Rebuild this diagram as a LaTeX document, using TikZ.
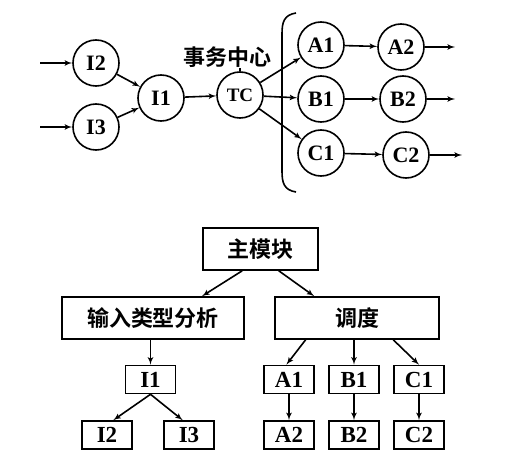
\documentclass[tikz,border=0pt]{standalone}
\usepackage{fontspec}
\setmainfont{Liberation Serif}
\newfontfamily\cjk{Noto Sans CJK SC}[BoldFont={* Bold}]
\usetikzlibrary{arrows}

\begin{document}
\begin{tikzpicture}[%
x=1pt, y=-1pt, >=latex', line width=1.6pt,
circ/.style={draw, shape=circle, minimum size=46pt, inner sep=0pt, font=\fontsize{22}{24}\selectfont\bfseries},
modbox/.style={draw, minimum height=42pt, inner sep=0pt, font=\fontsize{22}{24}\selectfont\cjk\bfseries},
leafbox/.style={draw, minimum width=50pt, minimum height=28pt, inner sep=0pt, font=\fontsize{23}{24}\selectfont\bfseries}]%pixel grid, y downwards
\useasboundingbox (0,0) rectangle (531,468);
% data flow
\node[circ] (I2) at (96,63) {I2};
\node[circ] (I3) at (96,127) {I3};
\node[circ] (I1) at (161,98) {I1};
\node[circ, font=\fontsize{19}{20}\selectfont\bfseries] (TC) at (240,95) {TC};
\node[font=\fontsize{22}{24}\selectfont\cjk\bfseries, inner sep=0pt] (tclabel) at (227,57) {事务中心};
\node[circ] (A1) at (321,45) {A1};
\node[circ] (B1) at (321,99) {B1};
\node[circ] (C1) at (321,153) {C1};
\node[circ] (A2) at (401,47) {A2};
\node[circ] (B2) at (403,99) {B2};
\node[circ] (C2) at (406,155) {C2};
\coordinate (inI2) at (40,63);
\coordinate (inI3) at (40,127);
\coordinate (outA) at (455,47);
\coordinate (outB) at (455,99);
\coordinate (outC) at (462,155);
\draw[->] (inI2) -- (I2);
\draw[->] (inI3) -- (I3);
\draw[->] (I2) -- (I1);
\draw[->] (I3) -- (I1);
\draw[->] (I1) -- (TC);
\draw (TC.north) -- (TC.north |- tclabel.south);
\draw[->] (TC) -- (A1);
\draw[->] (TC) -- (B1);
\draw[->] (TC) -- (C1);
\draw[->] (A1) -- (A2);
\draw[->] (B1) -- (B2);
\draw[->] (C1) -- (C2);
\draw[->] (A2) -- (outA);
\draw[->] (B2) -- (outB);
\draw[->] (C2) -- (outC);
\draw (296,13) .. controls (284,15) and (282,22) .. (282,34) -- (282,171) .. controls (282,183) and (284,190) .. (296,192); %bracket
% module tree
\node[modbox, minimum width=115pt] (main) at (260.5,249) {主模块};
\node[modbox, minimum width=182pt] (ins) at (153,318) {输入类型分析};
\node[modbox, minimum width=164pt] (disp) at (357,318) {调度};
\node[leafbox] (i1b) at (150.5,379.5) {I1};
\node[leafbox] (i2b) at (107,435) {I2};
\node[leafbox] (i3b) at (189,435) {I3};
\node[leafbox] (a1b) at (289,379.5) {A1};
\node[leafbox] (b1b) at (354,379.5) {B1};
\node[leafbox] (c1b) at (419,379.5) {C1};
\node[leafbox] (a2b) at (289,435) {A2};
\node[leafbox] (b2b) at (354,435) {B2};
\node[leafbox] (c2b) at (419,435) {C2};
\draw[->] (main.230) -- (ins.24);
\draw[->] (main.310) -- (disp.153);
\draw[->] (i1b.north |- ins.south) -- (i1b.north);
\draw[->] (i1b.south) -- (i2b.67);
\draw[->] (i1b.south) -- (i3b.113);
\draw[->] (disp.203) -- (a1b.100);
\draw[->] (b1b.north |- disp.south) -- (b1b.north);
\draw[->] (disp.329) -- (c1b.north);
\draw[->] (a1b) -- (a2b);
\draw[->] (b1b) -- (b2b);
\draw[->] (c1b) -- (c2b);
\end{tikzpicture}
\end{document}
